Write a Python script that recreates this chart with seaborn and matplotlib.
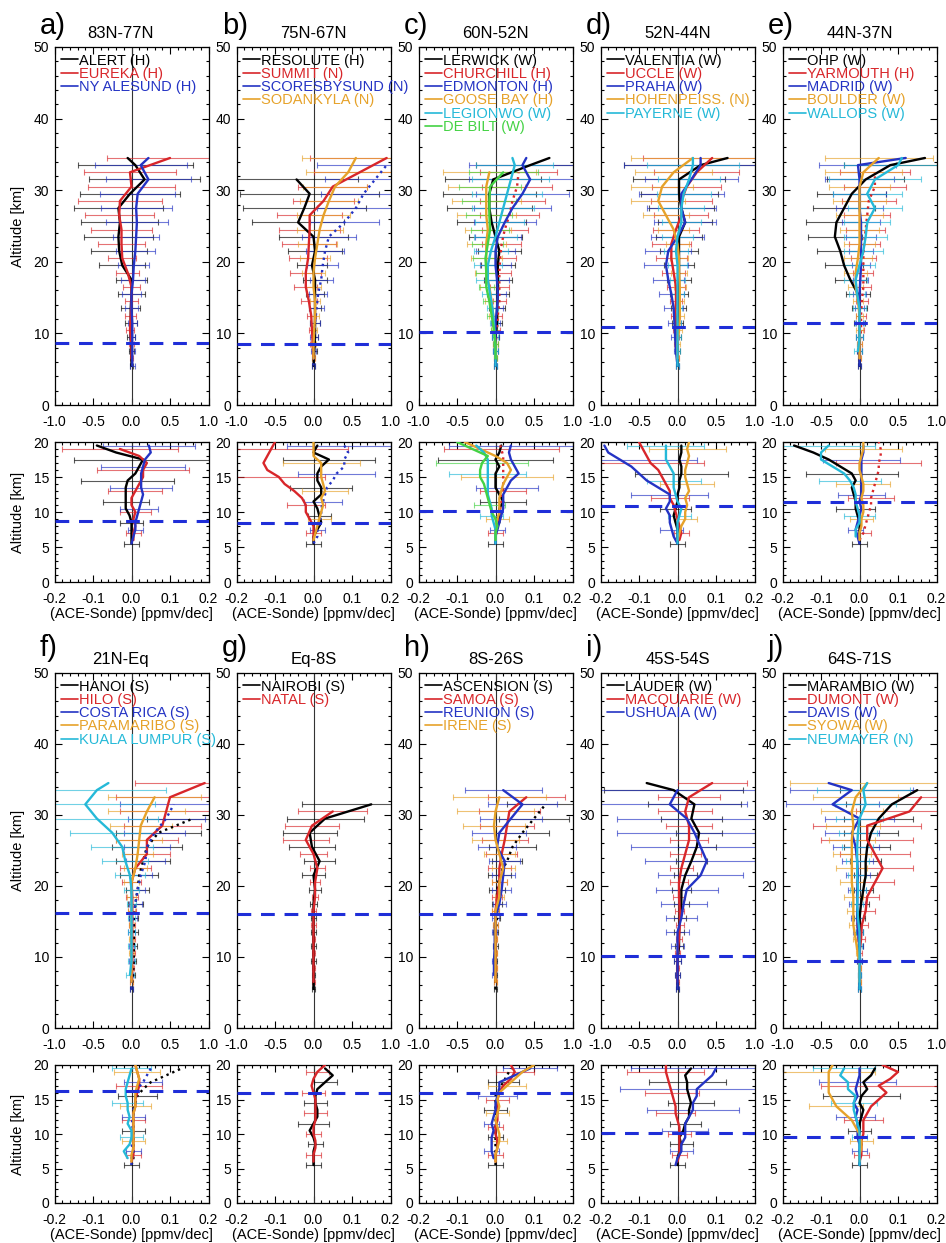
import numpy as np
import pandas as pd
import matplotlib
matplotlib.use("Agg")
import matplotlib.pyplot as plt
import seaborn as sns
from matplotlib.lines import Line2D
from matplotlib.ticker import MultipleLocator, FormatStrFormatter

sns.set_theme(style="ticks")
plt.rcParams['font.family'] = ['Liberation Sans', 'DejaVu Sans']
plt.rcParams['axes.edgecolor'] = 'black'
plt.rcParams['xtick.color'] = 'black'
plt.rcParams['ytick.color'] = 'black'
plt.rcParams['text.color'] = 'black'
plt.rcParams['axes.labelcolor'] = 'black'
plt.rcParams['axes.unicode_minus'] = False

nan = np.nan

# ---------------- altitude grids (km) ----------------
ALT_A = [5.5, 7.5, 9.5, 11.5, 13.5, 15.5, 17.5, 19.5, 21.5, 23.5, 25.5, 27.5, 29.5, 31.5, 33.5, 34.5]
ALT_B = [6.5, 8.5, 10.5, 12.5, 14.5, 16.5, 18.5, 20.5, 22.5, 24.5, 26.5, 28.5, 30.5, 32.5, 34.5]
ALT_C = [5.5, 6.5, 7.5, 8.5, 9.5, 10.5, 11.5, 12.5, 13.5, 14.5, 15.5, 16.5, 17.5, 18.5, 19.5]
ALT_D = [6, 7, 8, 9, 10, 11, 12, 13, 14, 15, 16, 17, 18, 19, 20]

LETTERS = ['a)', 'b)', 'c)', 'd)', 'e)', 'f)', 'g)', 'h)', 'i)', 'j)']
TITLES = ['83N-77N', '75N-67N', '60N-52N', '52N-44N', '44N-37N',
          '21N-Eq', 'Eq-8S', '8S-26S', '45S-54S', '64S-71S']
TROPOPAUSE = [8.7, 8.5, 10.2, 10.9, 11.5, 16.2, 16.0, 16.0, 10.1, 9.5]
DOTTED = ['SCORESBYSUND (N)', 'CHURCHILL (H)', 'YARMOUTH (H)', 'HANOI (S)',
          'COSTA RICA (S)', 'ASCENSION (S)']
STATION_COLORS = ['#000000', '#d8262a', '#2433c4', '#e6a22a', '#25b9d8', '#44d244']

# ---------------- a) 83N-77N ----------------
A_TOP = {
    'ALERT (H)': [0.0, 0.0, -0.01, -0.01, -0.01, 0.0, 0.0, -0.12, -0.16, -0.17, -0.15, -0.17, -0.02, 0.17, 0.05, -0.05],
    'EUREKA (H)': [0.0, 0.0, -0.02, -0.01, 0.0, 0.0, -0.05, -0.12, -0.13, -0.13, -0.16, -0.15, 0.0, -0.02, 0.5],
    'NY ALESUND (H)': [0.01, 0.01, 0.01, 0.01, 0.0, 0.0, 0.02, 0.03, 0.05, 0.06, 0.07, 0.06, 0.08, 0.22, 0.12, 0.22],
}
A_TOP_ERR = {
    'ALERT (H)': [0.02, 0.03, 0.05, 0.08, 0.12, 0.17, 0.2, 0.3, 0.36, 0.45, 0.5, 0.58, 0.65, 0.72, 0.75, nan],
    'EUREKA (H)': [0.02, 0.03, 0.05, 0.07, 0.09, 0.11, 0.15, 0.18, 0.3, 0.4, 0.45, 0.55, 0.57, 0.6, 0.82],
    'NY ALESUND (H)': [0.03, 0.03, 0.04, 0.06, 0.08, 0.12, 0.15, 0.2, 0.25, 0.3, 0.4, 0.46, 0.49, 0.55, 0.6, nan],
}
A_BOT = {
    'ALERT (H)': [0.0, 0.0, 0.0, 0.0, -0.005, -0.015, -0.015, -0.015, -0.015, -0.01, 0.01, 0.02, 0.03, -0.04, -0.09],
    'EUREKA (H)': [0.005, 0.005, 0.01, 0.005, 0.01, 0.0, 0.0, 0.01, 0.02, 0.03, 0.03, 0.04, 0.02, -0.03, nan],
    'NY ALESUND (H)': [0.0, 0.005, 0.01, 0.01, 0.015, 0.02, 0.025, 0.03, 0.025, 0.025, 0.025, 0.03, 0.035, 0.05, 0.045],
}
A_BOT_ERR = {
    'ALERT (H)': [0.02, 0.02, 0.03, 0.03, 0.04, 0.04, 0.06, 0.08, 0.1, 0.12, 0.16, 0.16, 0.18, 0.2, 0.2],
    'EUREKA (H)': [0.02, 0.02, 0.02, 0.03, 0.04, 0.05, 0.06, 0.07, 0.08, 0.1, 0.12, 0.12, 0.14, 0.15, nan],
    'NY ALESUND (H)': [0.02, 0.02, 0.02, 0.03, 0.04, 0.05, 0.05, 0.06, 0.08, 0.08, 0.1, 0.11, 0.11, 0.12, 0.12],
}

# ---------------- b) 75N-67N ----------------
B_TOP = {
    'RESOLUTE (H)': [0.0, 0.01, 0.02, 0.02, 0.02, 0.02, 0.02, -0.02, 0.02, 0.0, -0.2, -0.12, -0.05, -0.22, nan, nan],
    'SUMMIT (N)': [0.0, -0.01, -0.02, -0.03, -0.06, -0.1, -0.1, -0.07, -0.06, -0.05, -0.05, 0.13, 0.25, 0.6, 0.95],
    'SCORESBYSUND (N)': [0.0, 0.0, 0.01, 0.02, 0.04, 0.06, 0.1, 0.12, 0.15, 0.2, 0.4, 0.55, 0.65, 0.8, 0.95, nan],
    'SODANKYLA (N)': [0.0, 0.0, 0.01, 0.02, 0.02, 0.0, 0.0, 0.02, 0.05, 0.08, 0.13, 0.2, 0.28, 0.45, 0.55],
}
B_TOP_ERR = {
    'RESOLUTE (H)': [0.02, 0.03, 0.04, 0.06, 0.08, 0.12, 0.15, 0.2, 0.35, 0.45, 0.6, 0.8, 0.9, 0.8, nan, nan],
    'SUMMIT (N)': [0.02, 0.03, 0.04, 0.06, 0.1, 0.15, 0.2, 0.25, 0.35, 0.4, 0.42, 0.4, 0.45, 0.6, 1.0],
    'SCORESBYSUND (N)': [0.02, 0.03, 0.05, 0.07, 0.1, 0.12, 0.15, 0.2, 0.25, 0.35, 0.45, 0.5, 0.55, 0.65, 0.9, nan],
    'SODANKYLA (N)': [0.02, 0.03, 0.04, 0.05, 0.07, 0.1, 0.15, 0.2, 0.25, 0.3, 0.35, 0.38, 0.42, 0.55, 0.7],
}
B_BOT = {
    'RESOLUTE (H)': [0.0, 0.0, 0.01, 0.02, 0.015, 0.01, 0.0, 0.02, 0.02, 0.01, 0.01, 0.02, 0.04, 0.0, 0.01],
    'SUMMIT (N)': [0.0, 0.0, 0.0, -0.01, -0.02, -0.02, -0.03, -0.05, -0.075, -0.09, -0.12, -0.13, -0.12, -0.11, -0.1],
    'SCORESBYSUND (N)': [0.0, 0.01, 0.01, 0.015, 0.02, 0.02, 0.025, 0.03, 0.035, 0.05, 0.06, 0.08, 0.08, 0.09, 0.08],
    'SODANKYLA (N)': [0.0, 0.005, 0.01, 0.015, 0.02, 0.025, 0.02, 0.03, 0.025, 0.02, 0.02, 0.02, 0.0, 0.0, 0.0],
}
B_BOT_ERR = {
    'RESOLUTE (H)': [0.02, 0.02, 0.02, 0.03, 0.03, 0.04, 0.05, 0.06, 0.08, 0.1, 0.2, 0.15, 0.12, 0.1, 0.1],
    'SUMMIT (N)': [0.02, 0.02, 0.02, 0.03, 0.04, 0.05, 0.06, 0.08, 0.1, 0.12, 0.15, 0.2, 0.2, 0.2, 0.2],
    'SCORESBYSUND (N)': [0.02, 0.02, 0.02, 0.03, 0.03, 0.04, 0.05, 0.06, 0.08, 0.09, 0.1, 0.12, 0.14, 0.15, 0.15],
    'SODANKYLA (N)': [0.02, 0.02, 0.02, 0.03, 0.04, 0.04, 0.05, 0.06, 0.07, 0.08, 0.09, 0.1, 0.1, 0.12, 0.12],
}

# ---------------- c) 60N-52N ----------------
C_TOP = {
    'LERWICK (W)': [0.0, 0.0, 0.0, 0.02, 0.02, 0.03, 0.03, 0.03, 0.05, 0.0, -0.05, -0.08, -0.08, -0.03, 0.45, 0.7],
    'CHURCHILL (H)': [0.0, 0.0, 0.02, 0.03, 0.05, 0.05, 0.05, 0.06, 0.08, 0.12, 0.18, 0.22, 0.28, 0.3, nan],
    'EDMONTON (H)': [0.0, 0.0, 0.0, 0.0, 0.02, 0.03, 0.02, 0.0, 0.0, 0.03, 0.12, 0.22, 0.35, 0.45, 0.35, 0.4],
    'GOOSE BAY (H)': [0.0, 0.0, -0.02, -0.03, -0.05, -0.08, -0.12, -0.12, -0.12, -0.1, -0.12, -0.12, -0.12, -0.08, nan],
    'LEGIONWO (W)': [0.0, 0.0, -0.01, -0.02, -0.04, -0.07, -0.1, -0.1, -0.06, 0.0, 0.05, 0.1, 0.15, 0.2, 0.25, 0.22],
    'DE BILT (W)': [0.0, 0.0, -0.02, -0.05, -0.08, -0.12, -0.12, -0.13, -0.1, -0.07, -0.08, -0.08, -0.07, 0.1, nan],
}
C_TOP_ERR = {
    'LERWICK (W)': [0.02, 0.03, 0.05, 0.07, 0.1, 0.14, 0.18, 0.22, 0.28, 0.35, 0.45, 0.55, 0.6, 0.62, 0.7, nan],
    'CHURCHILL (H)': [0.02, 0.03, 0.04, 0.06, 0.08, 0.12, 0.15, 0.2, 0.25, 0.3, 0.38, 0.42, 0.45, 0.5, nan],
    'EDMONTON (H)': [0.02, 0.03, 0.04, 0.06, 0.08, 0.1, 0.15, 0.2, 0.25, 0.3, 0.4, 0.5, 0.6, 0.8, 0.7, nan],
    'GOOSE BAY (H)': [0.02, 0.03, 0.04, 0.06, 0.08, 0.12, 0.15, 0.2, 0.25, 0.3, 0.38, 0.45, 0.5, 0.6, nan],
    'LEGIONWO (W)': [0.02, 0.03, 0.04, 0.05, 0.07, 0.1, 0.15, 0.18, 0.22, 0.28, 0.32, 0.4, 0.45, 0.5, 0.5, nan],
    'DE BILT (W)': [0.02, 0.03, 0.04, 0.06, 0.08, 0.1, 0.13, 0.16, 0.2, 0.25, 0.3, 0.35, 0.4, 0.45, nan],
}
C_BOT = {
    'LERWICK (W)': [0.0, 0.0, 0.0, 0.01, 0.01, 0.01, 0.02, 0.01, 0.0, 0.0, 0.0, 0.01, 0.0, 0.01, 0.015],
    'CHURCHILL (H)': [0.0, 0.0, 0.005, 0.01, 0.01, 0.015, 0.015, 0.02, 0.02, 0.02, 0.02, 0.02, 0.02, 0.015, 0.01],
    'EDMONTON (H)': [0.0, 0.0, 0.005, 0.01, 0.015, 0.02, 0.02, 0.02, 0.03, 0.04, 0.06, 0.05, 0.04, 0.035, 0.04],
    'GOOSE BAY (H)': [0.0, 0.0, 0.0, 0.005, 0.01, 0.01, 0.01, 0.015, 0.02, 0.03, 0.04, 0.03, 0.0, -0.04, -0.08],
    'LEGIONWO (W)': [0.0, 0.0, 0.0, -0.005, -0.01, -0.01, -0.015, -0.02, -0.02, -0.02, -0.02, -0.02, -0.02, -0.03, -0.05],
    'DE BILT (W)': [0.0, 0.0, 0.005, 0.0, -0.01, -0.015, -0.02, -0.025, -0.03, -0.04, -0.04, -0.035, -0.02, -0.06, -0.1],
}
C_BOT_ERR = {
    'LERWICK (W)': [0.02, 0.02, 0.03, 0.03, 0.04, 0.05, 0.06, 0.08, 0.1, 0.12, 0.18, 0.16, 0.15, 0.15, 0.15],
    'CHURCHILL (H)': [0.02, 0.02, 0.02, 0.03, 0.03, 0.04, 0.05, 0.06, 0.08, 0.1, 0.12, 0.15, 0.15, 0.15, 0.15],
    'EDMONTON (H)': [0.02, 0.02, 0.02, 0.03, 0.04, 0.05, 0.05, 0.06, 0.08, 0.1, 0.12, 0.14, 0.16, 0.16, 0.16],
    'GOOSE BAY (H)': [0.02, 0.02, 0.02, 0.03, 0.04, 0.05, 0.06, 0.08, 0.1, 0.12, 0.15, 0.17, 0.18, 0.18, 0.18],
    'LEGIONWO (W)': [0.02, 0.02, 0.02, 0.03, 0.03, 0.04, 0.05, 0.06, 0.07, 0.08, 0.1, 0.12, 0.12, 0.12, 0.12],
    'DE BILT (W)': [0.02, 0.02, 0.02, 0.03, 0.04, 0.04, 0.05, 0.06, 0.07, 0.08, 0.1, 0.12, 0.14, 0.15, 0.15],
}

# ---------------- d) 52N-44N ----------------
D_TOP = {
    'VALENTIA (W)': [0.0, 0.0, 0.0, 0.0, 0.01, 0.02, 0.02, 0.02, 0.02, 0.02, 0.1, 0.05, 0.02, 0.02, 0.3, 0.65],
    'UCCLE (W)': [0.0, -0.02, -0.02, -0.03, -0.02, -0.02, -0.05, -0.08, -0.08, -0.02, 0.05, 0.05, 0.12, 0.25, 0.45],
    'PRAHA (W)': [0.0, -0.02, -0.03, -0.04, -0.05, -0.08, -0.12, -0.15, -0.12, 0.0, 0.1, 0.05, 0.05, 0.18, 0.3, 0.3],
    'HOHENPEISS. (N)': [0.0, 0.0, 0.02, 0.03, 0.03, 0.03, 0.02, 0.02, 0.0, -0.05, -0.15, -0.25, -0.2, -0.05, 0.2],
    'PAYERNE (W)': [0.0, 0.0, 0.0, 0.0, 0.0, 0.0, 0.0, 0.0, -0.02, 0.0, 0.05, 0.05, 0.08, 0.15, 0.2, 0.2],
}
D_TOP_ERR = {
    'VALENTIA (W)': [0.02, 0.03, 0.05, 0.07, 0.1, 0.12, 0.15, 0.2, 0.25, 0.3, 0.35, 0.42, 0.5, 0.6, 1.0, nan],
    'UCCLE (W)': [0.02, 0.03, 0.04, 0.06, 0.08, 0.12, 0.15, 0.2, 0.25, 0.3, 0.35, 0.4, 0.45, 0.55, 0.9],
    'PRAHA (W)': [0.02, 0.03, 0.05, 0.08, 0.12, 0.16, 0.2, 0.28, 0.3, 0.35, 0.4, 0.45, 0.55, 0.6, 1.0, nan],
    'HOHENPEISS. (N)': [0.02, 0.03, 0.04, 0.05, 0.06, 0.08, 0.1, 0.12, 0.15, 0.2, 0.3, 0.35, 0.4, 0.5, 0.8],
    'PAYERNE (W)': [0.02, 0.03, 0.04, 0.05, 0.06, 0.08, 0.1, 0.12, 0.15, 0.2, 0.25, 0.3, 0.35, 0.4, 0.6, nan],
}
D_BOT = {
    'VALENTIA (W)': [0.0, 0.0, 0.0, -0.005, -0.01, -0.005, 0.0, 0.0, 0.005, 0.005, 0.01, 0.01, 0.005, 0.01, 0.01],
    'UCCLE (W)': [0.005, 0.01, 0.005, 0.0, -0.005, -0.01, -0.02, -0.02, -0.03, -0.04, -0.05, -0.07, -0.08, -0.09, -0.1],
    'PRAHA (W)': [0.0, -0.01, -0.015, -0.02, -0.02, -0.03, -0.02, -0.02, -0.05, -0.08, -0.1, -0.12, -0.15, -0.18, -0.19],
    'HOHENPEISS. (N)': [0.0, 0.005, 0.01, 0.02, 0.02, 0.025, 0.02, 0.03, 0.025, 0.02, 0.02, 0.025, 0.03, 0.025, 0.03],
    'PAYERNE (W)': [0.0, 0.0, 0.0, 0.0, 0.005, 0.01, 0.0, -0.005, -0.01, -0.01, -0.01, -0.02, -0.03, -0.03, -0.03],
}
D_BOT_ERR = {
    'VALENTIA (W)': [0.02, 0.02, 0.02, 0.03, 0.04, 0.04, 0.05, 0.06, 0.07, 0.08, 0.12, 0.14, 0.14, 0.15, 0.15],
    'UCCLE (W)': [0.02, 0.02, 0.02, 0.03, 0.04, 0.05, 0.05, 0.06, 0.08, 0.1, 0.12, 0.14, 0.15, 0.15, 0.15],
    'PRAHA (W)': [0.02, 0.02, 0.03, 0.04, 0.06, 0.05, 0.08, 0.1, 0.12, 0.14, 0.16, 0.17, 0.2, 0.2, 0.2],
    'HOHENPEISS. (N)': [0.02, 0.02, 0.02, 0.03, 0.03, 0.04, 0.05, 0.06, 0.07, 0.08, 0.09, 0.1, 0.1, 0.1, 0.1],
    'PAYERNE (W)': [0.02, 0.02, 0.02, 0.03, 0.03, 0.04, 0.04, 0.05, 0.06, 0.07, 0.08, 0.1, 0.1, 0.1, 0.1],
}

# ---------------- e) 44N-37N ----------------
E_TOP = {
    'OHP (W)': [0.0, 0.0, 0.0, 0.0, 0.0, -0.02, -0.12, -0.2, -0.25, -0.32, -0.3, -0.2, -0.1, 0.08, 0.4, 0.85],
    'YARMOUTH (H)': [0.0, 0.0, 0.02, 0.02, 0.03, 0.05, 0.05, 0.05, 0.06, 0.08, 0.1, 0.12, 0.2, 0.2, nan],
    'MADRID (W)': [0.0, 0.0, 0.0, 0.0, 0.0, 0.0, 0.01, 0.02, 0.02, 0.02, 0.02, 0.0, 0.0, 0.0, -0.02, 0.6],
    'BOULDER (W)': [0.0, 0.0, 0.0, 0.0, -0.02, -0.05, -0.05, -0.02, 0.0, 0.0, 0.0, 0.0, 0.0, 0.05, 0.25],
    'WALLOPS (W)': [nan, -0.02, 0.0, 0.0, 0.0, -0.03, -0.05, 0.0, 0.05, 0.08, 0.1, 0.2, 0.1, 0.2, 0.5, 0.55],
}
E_TOP_ERR = {
    'OHP (W)': [0.02, 0.03, 0.05, 0.07, 0.1, 0.15, 0.2, 0.25, 0.3, 0.35, 0.4, 0.4, 0.45, 0.5, 0.6, nan],
    'YARMOUTH (H)': [0.02, 0.03, 0.04, 0.06, 0.08, 0.1, 0.13, 0.16, 0.2, 0.25, 0.3, 0.35, 0.4, 0.45, nan],
    'MADRID (W)': [0.02, 0.03, 0.04, 0.05, 0.06, 0.08, 0.1, 0.12, 0.15, 0.2, 0.25, 0.3, 0.35, 0.45, 0.5, nan],
    'BOULDER (W)': [0.02, 0.03, 0.04, 0.05, 0.07, 0.1, 0.15, 0.18, 0.2, 0.25, 0.3, 0.35, 0.4, 0.5, 0.7],
    'WALLOPS (W)': [nan, 0.05, 0.05, 0.06, 0.08, 0.1, 0.15, 0.2, 0.25, 0.28, 0.3, 0.35, 0.45, 0.6, 0.7, nan],
}
E_BOT = {
    'OHP (W)': [0.0, 0.0, 0.0, 0.0, -0.005, -0.01, -0.01, -0.015, -0.02, -0.01, -0.02, -0.05, -0.08, -0.12, -0.17],
    'YARMOUTH (H)': [0.0, 0.01, 0.015, 0.02, 0.025, 0.03, 0.03, 0.035, 0.04, 0.045, 0.05, 0.05, 0.055, 0.055, 0.05],
    'MADRID (W)': [0.0, -0.005, -0.01, -0.005, 0.0, 0.005, 0.0, 0.005, 0.005, 0.005, 0.005, 0.005, 0.005, 0.01, 0.01],
    'BOULDER (W)': [0.0, 0.0, 0.005, 0.005, 0.01, 0.01, 0.005, 0.01, 0.01, 0.005, 0.0, 0.0, 0.005, 0.01, 0.01],
    'WALLOPS (W)': [nan, -0.01, -0.01, 0.0, 0.0, -0.005, -0.01, -0.01, -0.015, -0.025, -0.04, -0.07, -0.1, -0.1, -0.08],
}
E_BOT_ERR = {
    'OHP (W)': [0.02, 0.02, 0.02, 0.03, 0.04, 0.05, 0.06, 0.08, 0.1, 0.1, 0.12, 0.14, 0.1, 0.1, 0.1],
    'YARMOUTH (H)': [0.02, 0.02, 0.03, 0.03, 0.04, 0.05, 0.06, 0.07, 0.08, 0.09, 0.1, 0.11, 0.12, 0.12, 0.12],
    'MADRID (W)': [0.02, 0.02, 0.02, 0.03, 0.03, 0.04, 0.05, 0.06, 0.07, 0.08, 0.09, 0.1, 0.1, 0.1, 0.1],
    'BOULDER (W)': [0.02, 0.02, 0.02, 0.03, 0.03, 0.04, 0.05, 0.06, 0.07, 0.08, 0.15, 0.12, 0.1, 0.1, 0.1],
    'WALLOPS (W)': [nan, 0.03, 0.04, 0.03, 0.04, 0.05, 0.05, 0.06, 0.07, 0.08, 0.1, 0.11, 0.12, 0.12, 0.12],
}

# ---------------- f) 21N-Eq ----------------
F_TOP = {
    'HANOI (S)': [0.0, 0.02, 0.03, 0.03, 0.03, 0.03, 0.05, 0.08, 0.1, 0.15, 0.2, 0.35, 0.8, nan, nan, nan],
    'HILO (S)': [0.0, 0.01, 0.01, 0.01, 0.01, 0.01, 0.01, 0.0, 0.05, 0.2, 0.2, 0.4, 0.45, 0.5, 0.95],
    'COSTA RICA (S)': [0.0, 0.0, 0.0, 0.0, 0.0, 0.02, 0.05, 0.08, 0.12, 0.18, 0.2, 0.3, 0.45, 0.55, nan, nan],
    'PARAMARIBO (S)': [0.0, 0.0, 0.0, 0.0, 0.0, 0.0, 0.0, 0.0, 0.05, 0.08, 0.1, 0.12, 0.2, 0.3, nan],
    'KUALA LUMPUR (S)': [nan, -0.02, 0.0, 0.0, 0.0, 0.0, 0.0, 0.0, -0.02, -0.08, -0.12, -0.25, -0.45, -0.6, -0.45, -0.3],
}
F_TOP_ERR = {
    'HANOI (S)': [0.02, 0.03, 0.03, 0.04, 0.05, 0.06, 0.1, 0.15, 0.25, 0.35, 0.45, 0.55, 0.6, nan, nan, nan],
    'HILO (S)': [0.02, 0.02, 0.03, 0.03, 0.04, 0.05, 0.08, 0.12, 0.2, 0.3, 0.4, 0.5, 0.6, 0.7, 0.9],
    'COSTA RICA (S)': [0.02, 0.02, 0.03, 0.03, 0.04, 0.05, 0.08, 0.1, 0.15, 0.25, 0.3, 0.4, 0.5, 0.7, nan, nan],
    'PARAMARIBO (S)': [0.02, 0.02, 0.03, 0.03, 0.03, 0.04, 0.06, 0.1, 0.15, 0.2, 0.3, 0.4, 0.5, 0.6, nan],
    'KUALA LUMPUR (S)': [nan, 0.05, 0.04, 0.04, 0.04, 0.05, 0.06, 0.1, 0.2, 0.3, 0.4, 0.55, 0.8, 0.9, 0.9, nan],
}
F_BOT = {
    'HANOI (S)': [0.0, 0.005, 0.005, 0.005, 0.005, 0.005, 0.005, 0.005, 0.005, 0.01, 0.015, 0.03, 0.05, 0.09, 0.13],
    'HILO (S)': [0.0, 0.005, 0.005, 0.005, 0.005, 0.005, 0.005, 0.005, 0.01, 0.01, 0.015, 0.02, 0.02, 0.015, 0.01],
    'COSTA RICA (S)': [0.0, 0.0, 0.005, 0.0, 0.005, 0.005, 0.0, 0.005, 0.005, 0.01, 0.01, 0.015, 0.03, 0.04, 0.05],
    'PARAMARIBO (S)': [0.0, 0.0, 0.005, 0.005, 0.005, 0.005, 0.005, 0.005, 0.01, 0.01, 0.01, 0.015, 0.02, 0.015, 0.01],
    'KUALA LUMPUR (S)': [nan, -0.01, -0.02, -0.005, 0.0, 0.0, -0.01, -0.005, -0.01, -0.01, -0.015, -0.015, -0.01, -0.005, 0.0],
}
F_BOT_ERR = {
    'HANOI (S)': [0.02, 0.02, 0.02, 0.02, 0.03, 0.03, 0.03, 0.04, 0.04, 0.04, 0.05, 0.06, 0.06, 0.07, 0.07],
    'HILO (S)': [0.02, 0.02, 0.02, 0.02, 0.03, 0.03, 0.03, 0.04, 0.04, 0.05, 0.06, 0.06, 0.06, 0.06, 0.06],
    'COSTA RICA (S)': [0.02, 0.02, 0.02, 0.02, 0.02, 0.03, 0.03, 0.03, 0.03, 0.04, 0.04, 0.04, 0.05, 0.05, 0.05],
    'PARAMARIBO (S)': [0.02, 0.02, 0.02, 0.03, 0.03, 0.03, 0.03, 0.04, 0.04, 0.05, 0.06, 0.06, 0.06, 0.06, 0.06],
    'KUALA LUMPUR (S)': [nan, 0.04, 0.075, 0.03, 0.03, 0.03, 0.03, 0.04, 0.04, 0.04, 0.04, 0.04, 0.05, 0.05, 0.05],
}

# ---------------- g) Eq-8S ----------------
G_TOP = {
    'NAIROBI (S)': [0.0, 0.0, 0.0, 0.0, 0.0, 0.0, 0.0, 0.02, 0.0, 0.08, -0.02, -0.05, 0.15, 0.75, nan, nan],
    'NATAL (S)': [0.0, 0.0, 0.0, 0.0, 0.0, 0.0, 0.02, 0.02, 0.05, 0.0, -0.1, -0.02, 0.25, nan, nan],
}
G_TOP_ERR = {
    'NAIROBI (S)': [0.02, 0.02, 0.03, 0.03, 0.03, 0.03, 0.05, 0.08, 0.15, 0.2, 0.3, 0.35, 0.5, 0.9, nan, nan],
    'NATAL (S)': [0.02, 0.02, 0.02, 0.02, 0.03, 0.03, 0.04, 0.06, 0.1, 0.18, 0.3, 0.35, 0.45, nan, nan],
}
G_BOT = {
    'NAIROBI (S)': [0.0, 0.0, 0.0, 0.005, 0.0, -0.01, 0.0, 0.01, 0.01, 0.005, 0.005, 0.01, 0.03, 0.05, 0.03],
    'NATAL (S)': [0.0, 0.0, 0.005, 0.005, 0.0, 0.0, 0.005, 0.005, 0.005, 0.005, 0.0, -0.005, 0.0, 0.01, 0.03],
}
G_BOT_ERR = {
    'NAIROBI (S)': [0.02, 0.02, 0.02, 0.02, 0.05, 0.05, 0.04, 0.04, 0.04, 0.03, 0.03, 0.03, 0.03, 0.03, 0.03],
    'NATAL (S)': [0.02, 0.02, 0.02, 0.02, 0.02, 0.02, 0.02, 0.03, 0.03, 0.03, 0.03, 0.03, 0.03, 0.03, 0.03],
}

# ---------------- h) 8S-26S ----------------
H_TOP = {
    'ASCENSION (S)': [0.0, 0.0, 0.0, 0.0, 0.0, 0.02, 0.02, 0.02, 0.05, 0.15, 0.22, 0.35, 0.5, 0.65, nan, nan],
    'SAMOA (S)': [0.0, 0.0, 0.0, 0.0, 0.0, 0.0, 0.02, 0.05, 0.05, 0.08, 0.12, 0.15, 0.18, 0.4, nan],
    'REUNION (S)': [nan, -0.02, -0.02, -0.01, -0.01, 0.0, 0.05, 0.08, 0.1, 0.12, 0.02, 0.05, 0.2, 0.35, 0.1, nan],
    'IRENE (S)': [0.0, 0.0, 0.0, 0.0, 0.0, 0.0, 0.05, 0.05, 0.1, 0.05, 0.0, -0.02, 0.0, 0.05, nan],
}
H_TOP_ERR = {
    'ASCENSION (S)': [0.02, 0.02, 0.02, 0.03, 0.03, 0.04, 0.06, 0.1, 0.15, 0.2, 0.3, 0.35, 0.45, 0.5, nan, nan],
    'SAMOA (S)': [0.02, 0.02, 0.02, 0.02, 0.03, 0.04, 0.06, 0.1, 0.15, 0.2, 0.3, 0.35, 0.4, 0.5, nan],
    'REUNION (S)': [nan, 0.02, 0.02, 0.02, 0.03, 0.05, 0.08, 0.12, 0.15, 0.2, 0.25, 0.35, 0.4, 0.45, 0.5, nan],
    'IRENE (S)': [0.02, 0.02, 0.02, 0.02, 0.03, 0.04, 0.06, 0.1, 0.15, 0.2, 0.3, 0.4, 0.5, 0.6, nan],
}
H_BOT = {
    'ASCENSION (S)': [0.0, 0.0, 0.0, 0.0, 0.0, 0.0, 0.0, 0.0, 0.0, 0.0, 0.0, 0.01, 0.02, 0.03, 0.04],
    'SAMOA (S)': [0.0, 0.0, 0.005, 0.005, 0.0, 0.0, 0.005, 0.005, 0.005, 0.005, 0.01, 0.02, 0.04, 0.05, 0.04],
    'REUNION (S)': [nan, -0.005, -0.01, -0.01, -0.01, -0.005, -0.01, -0.005, 0.0, 0.0, 0.005, 0.01, 0.01, 0.05, 0.09],
    'IRENE (S)': [0.0, 0.0, 0.005, 0.01, 0.01, 0.005, 0.0, 0.005, 0.01, 0.005, 0.01, 0.03, 0.05, 0.07, 0.1],
}
H_BOT_ERR = {
    'ASCENSION (S)': [0.02, 0.02, 0.02, 0.02, 0.02, 0.02, 0.02, 0.03, 0.03, 0.03, 0.03, 0.04, 0.04, 0.04, 0.04],
    'SAMOA (S)': [0.02, 0.02, 0.02, 0.02, 0.02, 0.02, 0.03, 0.03, 0.03, 0.03, 0.04, 0.05, 0.05, 0.05, 0.05],
    'REUNION (S)': [nan, 0.02, 0.02, 0.02, 0.02, 0.02, 0.02, 0.03, 0.03, 0.04, 0.05, 0.06, 0.07, 0.07, 0.07],
    'IRENE (S)': [0.02, 0.02, 0.02, 0.02, 0.03, 0.03, 0.03, 0.03, 0.03, 0.04, 0.04, 0.05, 0.05, 0.05, 0.05],
}

# ---------------- i) 45S-54S ----------------
I_TOP = {
    'LAUDER (W)': [0.0, 0.0, 0.0, 0.02, 0.02, 0.03, 0.05, 0.05, 0.1, 0.18, 0.25, 0.28, 0.18, 0.22, -0.05, -0.4],
    'MACQUARIE (W)': [0.0, 0.0, 0.0, 0.02, 0.03, 0.03, 0.02, 0.02, 0.05, 0.1, 0.15, 0.15, 0.1, 0.15, 0.45],
    'USHUAIA (W)': [0.0, 0.0, 0.0, 0.0, 0.0, 0.05, 0.08, 0.12, 0.3, 0.38, 0.3, 0.22, 0.12, -0.1, 0.0, nan],
}
I_TOP_ERR = {
    'LAUDER (W)': [0.02, 0.03, 0.04, 0.05, 0.06, 0.08, 0.1, 0.12, 0.15, 0.2, 0.25, 0.3, 0.4, 0.6, 0.9, nan],
    'MACQUARIE (W)': [0.02, 0.02, 0.03, 0.04, 0.05, 0.06, 0.08, 0.12, 0.15, 0.2, 0.25, 0.3, 0.35, 0.4, 0.45],
    'USHUAIA (W)': [0.02, 0.03, 0.05, 0.08, 0.15, 0.2, 0.3, 0.4, 0.55, 0.8, 0.9, 1.0, 0.9, 1.0, 1.1, nan],
}
I_BOT = {
    'LAUDER (W)': [0.0, 0.0, 0.005, 0.01, 0.005, 0.015, 0.02, 0.03, 0.03, 0.035, 0.03, 0.025, 0.025, 0.02, 0.035],
    'MACQUARIE (W)': [0.0, 0.005, 0.005, 0.005, 0.005, 0.005, 0.0, -0.005, -0.005, -0.01, -0.015, -0.02, -0.025, -0.03, -0.03],
    'USHUAIA (W)': [-0.005, 0.0, 0.01, 0.01, 0.02, 0.02, 0.02, 0.03, 0.04, 0.04, 0.05, 0.05, 0.07, 0.09, 0.1],
}
I_BOT_ERR = {
    'LAUDER (W)': [0.02, 0.02, 0.02, 0.03, 0.03, 0.04, 0.04, 0.04, 0.05, 0.06, 0.08, 0.09, 0.1, 0.1, 0.1],
    'MACQUARIE (W)': [0.02, 0.02, 0.02, 0.02, 0.03, 0.03, 0.04, 0.05, 0.05, 0.06, 0.07, 0.1, 0.1, 0.1, 0.1],
    'USHUAIA (W)': [0.02, 0.03, 0.03, 0.04, 0.05, 0.06, 0.08, 0.1, 0.12, 0.15, 0.18, 0.2, 0.22, 0.22, 0.22],
}

# ---------------- j) 64S-71S ----------------
J_TOP = {
    'MARAMBIO (W)': [0.0, 0.0, 0.0, 0.0, 0.0, 0.0, 0.02, 0.05, 0.08, 0.08, 0.1, 0.15, 0.25, 0.42, 0.75, nan],
    'DUMONT (W)': [0.0, 0.0, 0.0, 0.02, 0.03, 0.08, 0.1, 0.2, 0.3, 0.2, 0.1, 0.1, 0.65, 0.8, nan],
    'DAVIS (W)': [0.0, 0.0, 0.0, 0.0, -0.02, -0.03, -0.03, -0.03, -0.02, -0.03, -0.05, -0.1, 0.0, -0.35, -0.1, -0.4],
    'SYOWA (W)': [0.0, 0.0, -0.02, -0.05, -0.08, -0.08, -0.08, -0.1, -0.1, -0.1, -0.1, -0.08, -0.1, -0.05, 0.1],
    'NEUMAYER (N)': [0.0, 0.0, 0.0, 0.0, 0.0, -0.02, -0.03, -0.02, -0.03, -0.03, -0.03, -0.02, 0.0, 0.08, 0.05, 0.1],
}
J_TOP_ERR = {
    'MARAMBIO (W)': [0.02, 0.02, 0.03, 0.04, 0.05, 0.07, 0.1, 0.12, 0.15, 0.2, 0.3, 0.35, 0.45, 0.6, 1.0, nan],
    'DUMONT (W)': [0.02, 0.02, 0.03, 0.05, 0.08, 0.12, 0.15, 0.25, 0.4, 0.45, 0.6, 0.7, 0.7, 0.8, nan],
    'DAVIS (W)': [0.02, 0.02, 0.03, 0.04, 0.06, 0.08, 0.1, 0.12, 0.15, 0.2, 0.3, 0.35, 0.45, 0.6, 0.8, nan],
    'SYOWA (W)': [0.02, 0.02, 0.03, 0.04, 0.06, 0.08, 0.12, 0.15, 0.2, 0.25, 0.3, 0.35, 0.4, 0.55, 1.0],
    'NEUMAYER (N)': [0.02, 0.02, 0.02, 0.03, 0.04, 0.06, 0.08, 0.1, 0.12, 0.15, 0.2, 0.25, 0.3, 0.4, 0.6, nan],
}
J_BOT = {
    'MARAMBIO (W)': [0.0, 0.0, 0.0, 0.005, 0.0, 0.0, 0.0, 0.005, 0.01, 0.0, 0.005, 0.02, 0.01, 0.03, 0.04],
    'DUMONT (W)': [0.0, 0.005, 0.005, 0.005, 0.01, 0.01, 0.01, 0.02, 0.03, 0.05, 0.07, 0.05, 0.08, 0.1, 0.06],
    'DAVIS (W)': [0.0, 0.0, 0.0, 0.0, -0.005, -0.005, -0.005, -0.01, -0.005, -0.015, -0.005, -0.01, -0.005, 0.0, 0.0],
    'SYOWA (W)': [0.0, 0.0, 0.005, 0.005, 0.0, -0.01, -0.02, -0.04, -0.06, -0.07, -0.08, -0.08, -0.08, -0.08, -0.07],
    'NEUMAYER (N)': [0.0, 0.0, 0.0, 0.0, 0.0, 0.0, -0.005, -0.01, -0.015, -0.015, -0.01, -0.03, -0.03, -0.05, -0.04],
}
J_BOT_ERR = {
    'MARAMBIO (W)': [0.02, 0.02, 0.02, 0.02, 0.03, 0.03, 0.04, 0.05, 0.06, 0.08, 0.1, 0.12, 0.12, 0.12, 0.12],
    'DUMONT (W)': [0.02, 0.02, 0.02, 0.03, 0.03, 0.04, 0.05, 0.06, 0.08, 0.1, 0.12, 0.15, 0.15, 0.15, 0.15],
    'DAVIS (W)': [0.02, 0.02, 0.02, 0.02, 0.03, 0.03, 0.04, 0.05, 0.06, 0.07, 0.08, 0.1, 0.1, 0.1, 0.1],
    'SYOWA (W)': [0.02, 0.02, 0.02, 0.03, 0.03, 0.04, 0.05, 0.06, 0.07, 0.08, 0.1, 0.12, 0.12, 0.12, 0.12],
    'NEUMAYER (N)': [0.02, 0.02, 0.02, 0.02, 0.02, 0.03, 0.03, 0.04, 0.05, 0.06, 0.07, 0.08, 0.08, 0.08, 0.08],
}

TOPS = [A_TOP, B_TOP, C_TOP, D_TOP, E_TOP, F_TOP, G_TOP, H_TOP, I_TOP, J_TOP]
TOP_ERRS = [A_TOP_ERR, B_TOP_ERR, C_TOP_ERR, D_TOP_ERR, E_TOP_ERR, F_TOP_ERR, G_TOP_ERR, H_TOP_ERR, I_TOP_ERR, J_TOP_ERR]
BOTS = [A_BOT, B_BOT, C_BOT, D_BOT, E_BOT, F_BOT, G_BOT, H_BOT, I_BOT, J_BOT]
BOT_ERRS = [A_BOT_ERR, B_BOT_ERR, C_BOT_ERR, D_BOT_ERR, E_BOT_ERR, F_BOT_ERR, G_BOT_ERR, H_BOT_ERR, I_BOT_ERR, J_BOT_ERR]

# ---------------- layout ----------------
W, H = 946, 1243
fig = plt.figure(figsize=(W / 100, H / 100), dpi=100)


def add_ax(left, top, width, height):
    return fig.add_axes([left / W, 1 - (top + height) / H, width / W, height / H])


COL_LEFT = [54.5, 236.5, 418.5, 600.5, 782.5]
COL_W = 154
ROW_TOP = [(47, 358), (673, 355)]
ROW_BOT = [(442, 140), (1065, 138)]
TITLE_X = [0.43, 0.5, 0.5, 0.5, 0.5]

TROPO_COLOR = '#1f2ed8'


def style_axis(ax, top_panel):
    ax.tick_params(which='both', direction='in', top=True, right=True,
                   labelsize=10, width=0.8)
    ax.tick_params(axis='x', which='major', pad=7)
    ax.tick_params(axis='y', which='major', pad=4)
    ax.tick_params(which='major', length=5)
    ax.tick_params(which='minor', length=2.5)
    for sp in ax.spines.values():
        sp.set_linewidth(0.9)
        sp.set_color('black')
    if top_panel:
        ax.set_xlim(-1, 1)
        ax.set_ylim(0, 50)
        ax.xaxis.set_major_locator(MultipleLocator(0.5))
        ax.xaxis.set_minor_locator(MultipleLocator(0.1))
        ax.yaxis.set_major_locator(MultipleLocator(10))
        ax.yaxis.set_minor_locator(MultipleLocator(2))
    else:
        ax.set_xlim(-0.2, 0.2)
        ax.set_ylim(0, 20)
        ax.xaxis.set_major_locator(MultipleLocator(0.1))
        ax.xaxis.set_minor_locator(MultipleLocator(0.02))
        ax.yaxis.set_major_locator(MultipleLocator(5))
        ax.yaxis.set_minor_locator(MultipleLocator(1))
    ax.xaxis.set_major_formatter(FormatStrFormatter('%.1f'))
    ax.yaxis.set_major_formatter(FormatStrFormatter('%d'))
    ax.set_facecolor('white')


def draw_profiles(ax, data, errs, top_panel):
    n = len(data)
    for k, (name, vals) in enumerate(data.items()):
        color = STATION_COLORS[k]
        if top_panel:
            alts = ALT_A if k % 2 == 0 else ALT_B
            every = 1
        else:
            alts = ALT_C if k % 2 == 0 else ALT_D
            step = max(3, n)
            every = (k % step, step)
        df = pd.DataFrame({'value': vals, 'alt': alts, 'err': errs[name]})
        ax.errorbar(df['value'], df['alt'], xerr=df['err'], fmt='none',
                    ecolor=color, elinewidth=0.8, capsize=2, capthick=0.8,
                    alpha=0.65, errorevery=every, zorder=2)
        ls = ':' if name in DOTTED else '-'
        sns.lineplot(data=df, x='value', y='alt', orient='y', sort=False,
                     estimator=None, color=color, linewidth=1.7,
                     linestyle=ls, legend=False, ax=ax, zorder=3)
    ax.set_xlabel('')
    ax.set_ylabel('')


for p in range(10):
    row, col = divmod(p, 5)
    left = COL_LEFT[col]
    ttop, th = ROW_TOP[row]
    btop, bh = ROW_BOT[row]

    # ---- top panel ----
    ax = add_ax(left, ttop, COL_W, th)
    ax.axvline(0, color='0.2', lw=0.8, zorder=1)
    draw_profiles(ax, TOPS[p], TOP_ERRS[p], True)
    ax.axhline(TROPOPAUSE[p], color=TROPO_COLOR, lw=2.2, dashes=(4.5, 3.2), zorder=4)
    style_axis(ax, True)
    names = list(TOPS[p].keys())
    handles = [Line2D([], [], color=STATION_COLORS[k], lw=1.2) for k in range(len(names))]
    ax.legend(handles, names, loc='upper left', frameon=False, fontsize=10.5,
              handlelength=1.15, handletextpad=0.05, labelspacing=-0.05,
              borderaxespad=0.25, borderpad=0.2,
              labelcolor=[STATION_COLORS[k] for k in range(len(names))])
    ax.text(TITLE_X[col], 1.0 + 9 / th, TITLES[p], transform=ax.transAxes,
            ha='center', va='baseline', fontsize=12)
    ax.text(-0.095, 1.0 + (13 if row == 0 else 17) / th, LETTERS[p],
            transform=ax.transAxes, ha='left', va='baseline', fontsize=21)
    if col == 0:
        ax.set_ylabel('Altitude [km]', fontsize=10.5, labelpad=6)

    # ---- bottom panel ----
    axb = add_ax(left, btop, COL_W, bh)
    axb.axvline(0, color='0.2', lw=0.8, zorder=1)
    draw_profiles(axb, BOTS[p], BOT_ERRS[p], False)
    axb.axhline(TROPOPAUSE[p], color=TROPO_COLOR, lw=2.2, dashes=(4.5, 3.2), zorder=4)
    style_axis(axb, False)
    axb.set_xlabel('(ACE-Sonde) [ppmv/dec]', fontsize=10.5, labelpad=1)
    if col == 0:
        axb.set_ylabel('Altitude [km]', fontsize=10.5, labelpad=6)

fig.savefig('out.png', dpi=100, facecolor='white')
